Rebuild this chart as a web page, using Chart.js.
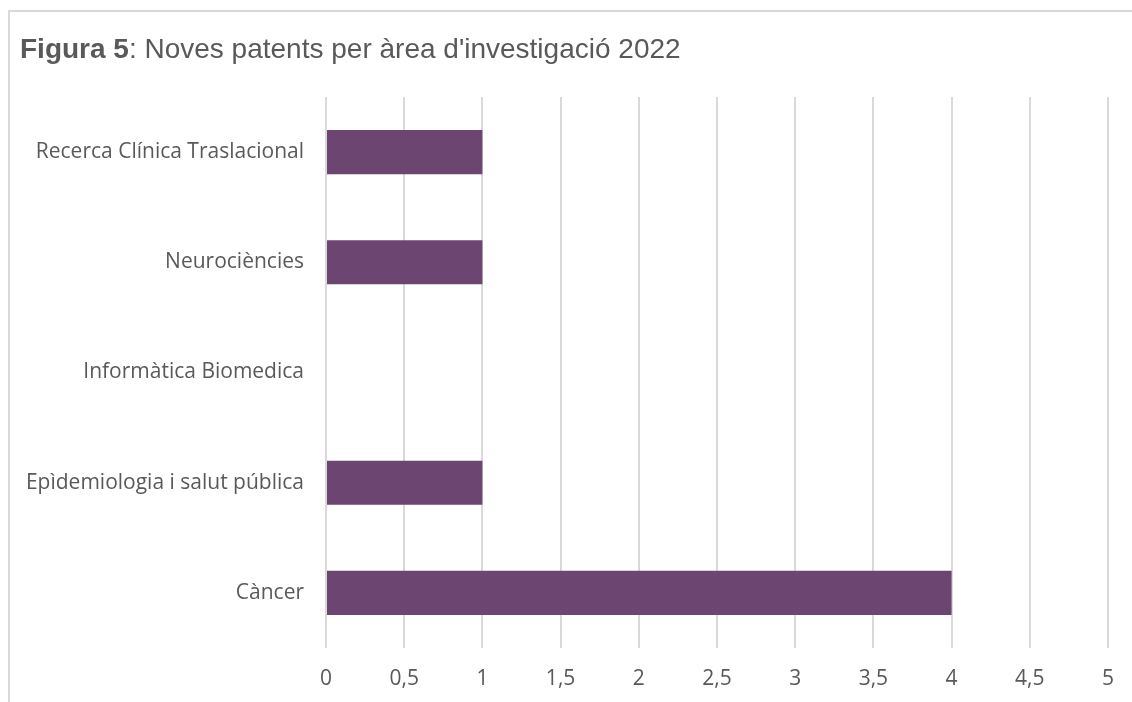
<!DOCTYPE html>
<html>
<head>
<meta charset="utf-8">
<script src="https://cdn.jsdelivr.net/npm/chart.js@4"></script>
<style>
    html, body { margin: 0; background: #ffffff; overflow: hidden; }
    #wrap { position: relative; width: 1132px; height: 702px; overflow: hidden; }
    #frame { position: absolute; left: 8px; top: 10px; width: 1140px; height: 700px; border-top: 2px solid #d9d9d9; border-left: 2px solid #d9d9d9; }
    #myChart { position: absolute; left: 0; top: 0; }
</style>
</head>
<body>
<div id="wrap">
    <div id="frame"></div>
    <canvas id="myChart"></canvas>
</div>
<script>
var areas = ['Recerca Clínica Traslacional', 'Neurociències', 'Informàtica Biomedica', 'Epìdemiologia i salut pública', 'Càncer'];
var patents = [1, 1, 0, 1, 4];
var xTicks = [0, 0.5, 1, 1.5, 2, 2.5, 3, 3.5, 4, 4.5, 5];

var titlePlugin = {
    id: 'mixedTitle',
    afterDraw: function(chart) {
        var ctx = chart.ctx;
        ctx.save();
        ctx.fillStyle = '#595959';
        ctx.textBaseline = 'alphabetic';
        ctx.font = 'bold 28px "Liberation Sans", Arial, sans-serif';
        var bold = 'Figura 5';
        ctx.fillText(bold, 20, 58);
        var w = ctx.measureText(bold).width;
        ctx.font = '28px "Liberation Sans", Arial, sans-serif';
        ctx.fillText(": Noves patents per àrea d'investigació 2022", 20 + w, 58);
        ctx.restore();
    }
};

function initialiseChart() {
    const ctx = document.getElementById('myChart');
    const myChart = new Chart(ctx, {
        type: 'bar',
        data: {
            labels: areas,
            datasets: [{
                label: 'Patents',
                data: patents,
                backgroundColor: '#6c4670',
                borderWidth: 0,
                barPercentage: 0.4,
                categoryPercentage: 1
            }]
        },
        options: {
            indexAxis: 'y',
            responsive: false,
            animation: false,
            devicePixelRatio: 1,
            layout: { padding: { top: 97, right: 24, left: 0, bottom: 0 } },
            plugins: {
                legend: { display: false },
                tooltip: { enabled: false }
            },
            scales: {
                x: {
                    min: 0,
                    max: 5,
                    afterBuildTicks: function(scale) {
                        scale.ticks = xTicks.map(function(v) { return { value: v }; });
                    },
                    afterFit: function(scale) { scale.height = 54; },
                    grid: { color: '#d9d9d9', lineWidth: 2, drawTicks: false },
                    border: { display: false },
                    ticks: {
                        padding: 18,
                        color: '#595959',
                        font: { family: '"Open Sans", sans-serif', size: 21 },
                        callback: function(v) { return String(v).replace('.', ','); }
                    }
                },
                y: {
                    afterFit: function(scale) { scale.width = 326; },
                    grid: { display: false },
                    border: { display: false },
                    ticks: {
                        padding: 14,
                        color: '#595959',
                        font: { family: '"Open Sans", sans-serif', size: 21 }
                    }
                }
            }
        },
        plugins: [titlePlugin]
    });
}

document.getElementById('myChart').width = 1132;
document.getElementById('myChart').height = 702;
initialiseChart();
</script>
</body>
</html>
